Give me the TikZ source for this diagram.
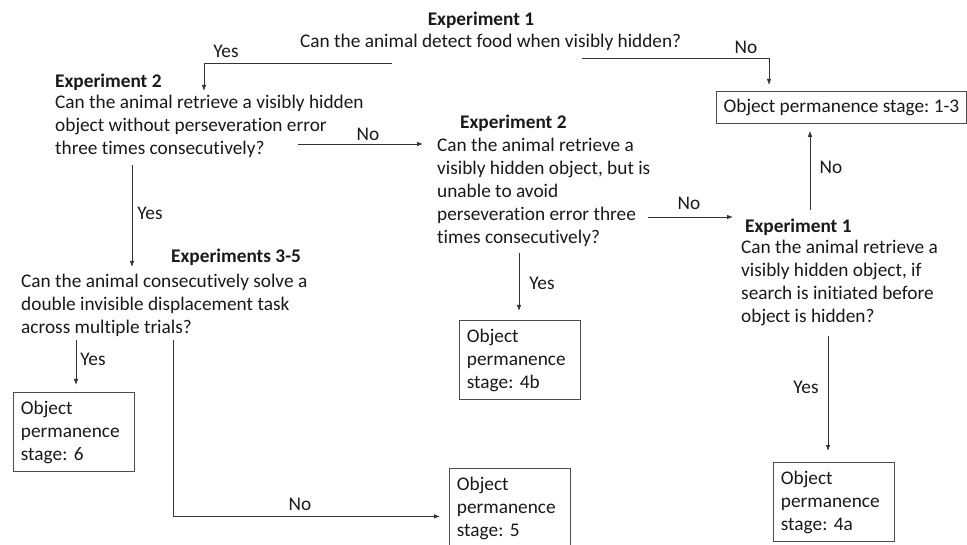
\documentclass[tikz,border=0pt]{standalone}
\usepackage{fontspec}
\setmainfont{Carlito}[Ligatures=NoCommon]
\usetikzlibrary{arrows.meta,calc}
\newcommand\fst{\rule{0pt}{15pt}}
\frenchspacing
\begin{document}
\begin{tikzpicture}[x=1pt,y=-1pt,
  every node/.style={inner sep=0pt, font=\fontsize{19.3}{23}\selectfont, text=black!90},
  title/.style={font=\fontsize{19.3}{23}\selectfont\bfseries, anchor=base west},
  quest/.style={align=left, anchor=north west},
  oneline/.style={anchor=base west},
  stagebox/.style={draw=black!70, line width=0.8pt, anchor=north west, align=left,
    text width=106pt, inner xsep=7.5pt, inner ysep=5.5pt, minimum height=79pt},
  widebox/.style={draw=black!70, line width=0.8pt, anchor=north west,
    minimum width=250pt, minimum height=32pt},
  lbl/.style={anchor=center},
  conn/.style={draw=black!80, line width=0.8pt, -{Latex[length=6pt,width=4.5pt]}},
]
\useasboundingbox (0,0) rectangle (967,545);

% titles
\node[title, anchor=base] (t1) at (481,25.5) {Experiment 1};
\node[title] (t2) at (55,87.5) {Experiment 2};
\node[title] (t3) at (460,128.5) {Experiment 2};
\node[title] (t4) at (745,232.5) {Experiment 1};
\node[title] (t5) at (171,262.5) {Experiments 3-5};

% questions
\node[oneline] (q1) at (300,47.5) {Can the animal detect food when visibly hidden?};
\node[quest] (q2) at (55,93.5) {\fst Can the animal retrieve a visibly hidden\\object without perseveration error\\three times consecutively?};
\node[quest] (q3) at (437,136.5) {\fst Can the animal retrieve a\\visibly hidden object, but is\\unable to avoid\\perseveration error three\\times consecutively?};
\node[quest] (q4) at (741,238.5) {\fst Can the animal retrieve a\\visibly hidden object, if\\search is initiated before\\object is hidden?};
\node[quest] (q5) at (21,272.5) {\fst Can the animal consecutively solve a\\double invisible displacement task\\across multiple trials?};

% outcome boxes
\node[widebox] (box13) at (716,91) {Object permanence stage: 1-3};
\node[stagebox] (box4b) at (459,320) {\fst Object\\permanence\\stage: 4b};
\node[stagebox] (box6) at (13,392) {\fst Object\\permanence\\stage: 6};
\node[stagebox] (box5) at (449,468) {\fst Object\\permanence\\stage: 5};
\node[stagebox] (box4a) at (773,462) {\fst Object\\permanence\\stage: 4a};

% connector start points
\coordinate (q1yes) at (392,63);
\coordinate (q1no) at (582,58);
\coordinate (q2no) at (298,144);
\coordinate (q2yes) at (132,165);
\coordinate (q3no) at (648,217);
\coordinate (q3yes) at (519,253);
\coordinate (q4no) at (810,210);
\coordinate (q4yes) at (828,336);
\coordinate (q5yes) at (76,340);
\coordinate (q5no) at (173,340);

% connectors
\draw[conn, shorten >=2.5pt] (q1yes) -| ([xshift=149pt]q2.north west);
\draw[conn, shorten >=6pt] (q1no) -| ([xshift=53pt]box13.north west);
\draw[conn, shorten >=14pt] (q2no) -- (q2no -| q3.west);
\draw[conn, shorten >=5.5pt] (q2yes) -- (q2yes |- q5.north);
\draw[conn, shorten >=8pt] (q3no) -- (q3no -| q4.west);
\draw[conn, shorten >=9pt] (q3yes) -- (q3yes |- box4b.north);
\draw[conn, shorten >=7pt] (q4no) -- (q4no |- box13.south);
\draw[conn, shorten >=11pt] (q4yes) -- (q4yes |- box4a.north);
\draw[conn, shorten >=7pt] (q5yes) -- (q5yes |- box6.north);
\draw[conn, shorten >=9pt] (q5no) |- ([yshift=-8.5pt]box5.west);

% labels
\node[lbl] (l1) at (226,51) {Yes};
\node[lbl] (l2) at (746,47) {No};
\node[lbl] (l3) at (368,134) {No};
\node[lbl] (l4) at (150,213) {Yes};
\node[lbl] (l5) at (689,203) {No};
\node[lbl] (l6) at (831,167) {No};
\node[lbl] (l7) at (542,283) {Yes};
\node[lbl] (l8) at (806,387) {Yes};
\node[lbl] (l9) at (93,359) {Yes};
\node[lbl] (l10) at (300,504) {No};
\end{tikzpicture}
\end{document}
